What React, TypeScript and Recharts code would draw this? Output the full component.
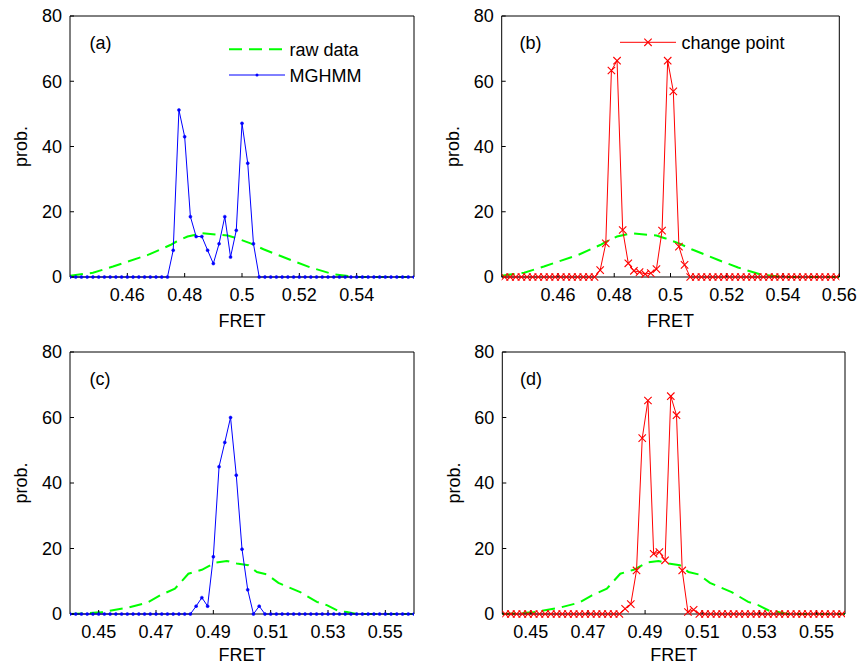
import React from 'react';
import { LineChart, Line, XAxis, YAxis, Legend } from 'recharts';

const FONT = '"Liberation Sans", Arial, Helvetica, sans-serif';
const GREEN = '#00ff00';
const BLUE = '#0000ff';
const RED = '#ff0000';

// tick labels
const yTicks = [0, 20, 40, 60, 80];
const xTicksA = [0.46, 0.48, 0.5, 0.52, 0.54];
const xTicksB = [0.46, 0.48, 0.5, 0.52, 0.54, 0.56];
const xTicksCD = [0.45, 0.47, 0.49, 0.51, 0.53, 0.55];

// MGHMM (a): bins 0.440, 0.442, ... 0.560
const mghmmA = [
  0, 0, 0, 0, 0, 0, 0, 0, 0, 0, 0, 0, 0, 0, 0, 0, 0, 0,
  8.2, 51.2, 43, 18.5, 12.4, 12.4, 8.2, 4.1, 10.2, 18.5, 6.1, 14.3, 47.1, 34.9, 10.2,
  0, 0, 0, 0, 0, 0, 0, 0, 0, 0, 0, 0, 0, 0, 0, 0, 0, 0, 0, 0, 0, 0, 0, 0, 0, 0, 0, 0,
];
// change point (b): bins 0.441, 0.443, ... 0.559
const changeB = [
  0, 0, 0, 0, 0, 0, 0, 0, 0, 0, 0, 0, 0, 0, 0, 0, 0,
  2.1, 10.3, 63.3, 66.3, 14.4, 4.2, 1.9, 1.5, 0.9, 1.2, 2.4, 14.2, 66.3, 56.9, 9.3, 3.7,
  0, 0, 0, 0, 0, 0, 0, 0, 0, 0, 0, 0, 0, 0, 0, 0, 0, 0, 0, 0, 0, 0, 0, 0, 0, 0, 0,
];
// MGHMM (c)
const mghmmC = [
  0, 0, 0, 0, 0, 0, 0, 0, 0, 0, 0, 0, 0, 0, 0, 0, 0, 0, 0, 0, 0, 0,
  2.4, 5.0, 2.4, 17.5, 45.0, 52.4, 60.0, 42.4, 19.8, 7.4, 0, 2.4,
  0, 0, 0, 0, 0, 0, 0, 0, 0, 0, 0, 0, 0, 0, 0, 0, 0, 0, 0, 0, 0, 0, 0, 0, 0, 0, 0,
];
// change point (d)
const changeD = [
  0, 0, 0, 0, 0, 0, 0, 0, 0, 0, 0, 0, 0, 0, 0, 0, 0, 0, 0, 0, 0,
  1.6, 3.0, 13.3, 53.7, 65.2, 18.4, 18.9, 16.4, 66.5, 60.7, 13.3, 0.6, 1.3,
  0, 0, 0, 0, 0, 0, 0, 0, 0, 0, 0, 0, 0, 0, 0, 0, 0, 0, 0, 0, 0, 0, 0, 0, 0, 0,
];

// raw data histograms
const rawTopX = [0.44, 0.448, 0.455, 0.46, 0.467, 0.475, 0.477, 0.481, 0.486, 0.495, 0.498, 0.503, 0.5075, 0.517, 0.524, 0.532, 0.537, 0.54, 0.56];
const rawTopP = [0.4, 1.3, 3.2, 4.7, 6.7, 9.8, 10.8, 12.4, 13.4, 12.7, 11.9, 10.3, 8.5, 5.2, 2.9, 0.8, 0.3, 0, 0];
const rawBotX = [0.44, 0.445, 0.4505, 0.46, 0.467, 0.4714, 0.4766, 0.4813, 0.486, 0.4906, 0.4947, 0.4982, 0.5022, 0.5052, 0.5087, 0.5127, 0.5203, 0.5261, 0.5296, 0.5337, 0.5366, 0.54, 0.56];
const rawBotP = [0, 0.2, 0.5, 1.9, 3.5, 5.7, 7.7, 12.3, 13.5, 15.7, 16.2, 15.4, 14.9, 12.8, 12.1, 9.5, 6.7, 3.7, 2.7, 0.9, 0.6, 0, 0];

const binned = (start: number, vals: number[]) =>
  vals.map((p, i) => ({ x: +(start + 0.002 * i).toFixed(4), p }));
const pairs = (xs: number[], ys: number[]) => xs.map((x, i) => ({ x, p: ys[i] }));

const fmt = (v: number) => String(Number(v.toFixed(2)));

const MS = 3.7;

const XMark = (props: any) => {
  const { cx, cy, index } = props;
  if (cx == null || cy == null) return <g key={`xm-${index}`} />;
  const s = MS;
  return (
    <path
      key={`xm-${index}`}
      d={`M${cx - s},${cy - s}L${cx + s},${cy + s}M${cx - s},${cy + s}L${cx + s},${cy - s}`}
      stroke={RED}
      strokeWidth={1.1}
      fill="none"
    />
  );
};

type PanelProps = {
  left: number;
  top: number;
  width: number;
  height: number;
  plot: { l: number; t: number; r: number; b: number };
  ticks: number[];
  raw: { x: number; p: number }[];
  series: { x: number; p: number }[];
  kind: 'blue' | 'red';
  labelOffset: number;
  overlay: React.ReactNode;
};

const tickStyle = { fontSize: 18, fill: '#000', fontFamily: FONT };

function Panel({ left, top, width, height, plot, ticks, raw, series, kind, labelOffset, overlay }: PanelProps) {
  const margin = {
    top: plot.t - 1,
    left: plot.l - 50,
    right: width - plot.r - 1,
    bottom: height - plot.b - 40,
  };
  return (
    <div style={{ position: 'absolute', left, top, width, height }}>
      <LineChart width={width} height={height} margin={margin}>
        <XAxis
          xAxisId="b"
          dataKey="x"
          type="number"
          domain={[0.44, 0.56]}
          allowDataOverflow
          ticks={ticks}
          interval={0}
          tickFormatter={fmt}
          tickSize={-4}
          tickMargin={15}
          height={40}
          axisLine={{ stroke: '#000' }}
          tickLine={{ stroke: '#000' }}
          tick={tickStyle}
          label={{ value: 'FRET', position: 'insideTop', offset: labelOffset, style: { fontSize: 18, fill: '#000', fontFamily: FONT } }}
        />
        <XAxis
          xAxisId="t"
          orientation="top"
          dataKey="x"
          type="number"
          domain={[0.44, 0.56]}
          allowDataOverflow
          ticks={ticks}
          interval={0}
          tick={false}
          tickSize={-4}
          height={1}
          axisLine={{ stroke: '#000' }}
          tickLine={{ stroke: '#000' }}
        />
        <YAxis
          yAxisId="l"
          type="number"
          domain={[0, 80]}
          ticks={yTicks}
          interval={0}
          tickSize={-4}
          tickMargin={12}
          width={50}
          axisLine={{ stroke: '#000' }}
          tickLine={{ stroke: '#000' }}
          tick={tickStyle}
          label={{
            value: 'prob.',
            angle: -90,
            position: 'insideLeft',
            offset: 1,
            style: { textAnchor: 'middle', fontSize: 18, fill: '#000', fontFamily: FONT },
          }}
        />
        <YAxis
          yAxisId="r"
          orientation="right"
          type="number"
          domain={[0, 80]}
          ticks={yTicks}
          interval={0}
          tick={false}
          tickSize={-4}
          width={1}
          axisLine={{ stroke: '#000' }}
          tickLine={{ stroke: '#000' }}
        />
        <Line
          xAxisId="t"
          yAxisId="r"
          data={raw}
          dataKey="p"
          stroke="none"
          dot={false}
          activeDot={false}
          legendType="none"
          isAnimationActive={false}
        />
        <Line
          xAxisId="b"
          yAxisId="l"
          data={raw}
          dataKey="p"
          type="linear"
          stroke={GREEN}
          strokeWidth={2}
          strokeDasharray="13 7"
          dot={false}
          activeDot={false}
          legendType="none"
          isAnimationActive={false}
        />
        {kind === 'blue' ? (
          <Line
            xAxisId="b"
            yAxisId="l"
            data={series}
            dataKey="p"
            type="linear"
            stroke={BLUE}
            strokeWidth={1}
            dot={{ r: 1.5, fill: BLUE, stroke: BLUE, strokeWidth: 0.5 }}
            activeDot={false}
            legendType="none"
            isAnimationActive={false}
          />
        ) : (
          <Line
            xAxisId="b"
            yAxisId="l"
            data={series}
            dataKey="p"
            type="linear"
            stroke={RED}
            strokeWidth={1}
            dot={(p: any) => <XMark {...p} key={`xm-${p.index}`} />}
            activeDot={false}
            legendType="none"
            isAnimationActive={false}
          />
        )}
        <Legend
          layout="vertical"
          align="center"
          verticalAlign="middle"
          wrapperStyle={{ left: 0, top: 0, width, height, pointerEvents: 'none' }}
          content={() => (
            <svg width={width} height={height} style={{ position: 'absolute', left: 0, top: 0 }}>
              {overlay}
            </svg>
          )}
        />
      </LineChart>
    </div>
  );
}

const txt = { fontSize: 18, fill: '#000', fontFamily: FONT };

export default function App() {
  const rawTop = pairs(rawTopX, rawTopP);
  const rawBot = pairs(rawBotX, rawBotP);
  return (
    <div style={{ position: 'absolute', left: 0, top: 0, width: 857, height: 666, overflow: 'hidden', background: '#fff' }}>
      <Panel
        left={0}
        top={0}
        width={430}
        height={337}
        plot={{ l: 70, t: 16, r: 414, b: 277 }}
        ticks={xTicksA}
        raw={rawTop}
        series={binned(0.44, mghmmA)}
        kind="blue"
        labelOffset={37.5}
        overlay={
          <g>
            <text x={89.5} y={49} {...txt}>(a)</text>
            <line x1={229} x2={285} y1={49.3} y2={49.3} stroke={GREEN} strokeWidth={2} strokeDasharray="13 7" />
            <text x={289.5} y={56} {...txt}>raw data</text>
            <line x1={229} x2={285} y1={75} y2={75} stroke={BLUE} strokeWidth={1} />
            <circle cx={257} cy={75} r={1.5} fill={BLUE} />
            <text x={289.4} y={81.5} {...txt}>MGHMM</text>
          </g>
        }
      />
      <Panel
        left={430}
        top={0}
        width={427}
        height={337}
        plot={{ l: 71.7, t: 16, r: 409.3, b: 277 }}
        ticks={xTicksB}
        raw={rawTop}
        series={binned(0.441, changeB)}
        kind="red"
        labelOffset={37.5}
        overlay={
          <g>
            <text x={89.5} y={49} {...txt}>(b)</text>
            <line x1={190} x2={246} y1={42.3} y2={42.3} stroke={RED} strokeWidth={1} />
            <path d="M214.3,38.6L221.7,46M214.3,46L221.7,38.6" stroke={RED} strokeWidth={1.1} fill="none" />
            <text x={251.5} y={49.3} {...txt}>change point</text>
          </g>
        }
      />
      <Panel
        left={0}
        top={337}
        width={430}
        height={329}
        plot={{ l: 70, t: 15, r: 414, b: 277 }}
        ticks={xTicksCD}
        raw={rawBot}
        series={binned(0.44, mghmmC)}
        kind="blue"
        labelOffset={34.5}
        overlay={<text x={89.5} y={48} {...txt}>(c)</text>}
      />
      <Panel
        left={430}
        top={337}
        width={427}
        height={329}
        plot={{ l: 72.3, t: 15, r: 415, b: 277 }}
        ticks={xTicksCD}
        raw={rawBot}
        series={binned(0.441, changeD)}
        kind="red"
        labelOffset={34.5}
        overlay={<text x={90.1} y={48} {...txt}>(d)</text>}
      />
    </div>
  );
}
